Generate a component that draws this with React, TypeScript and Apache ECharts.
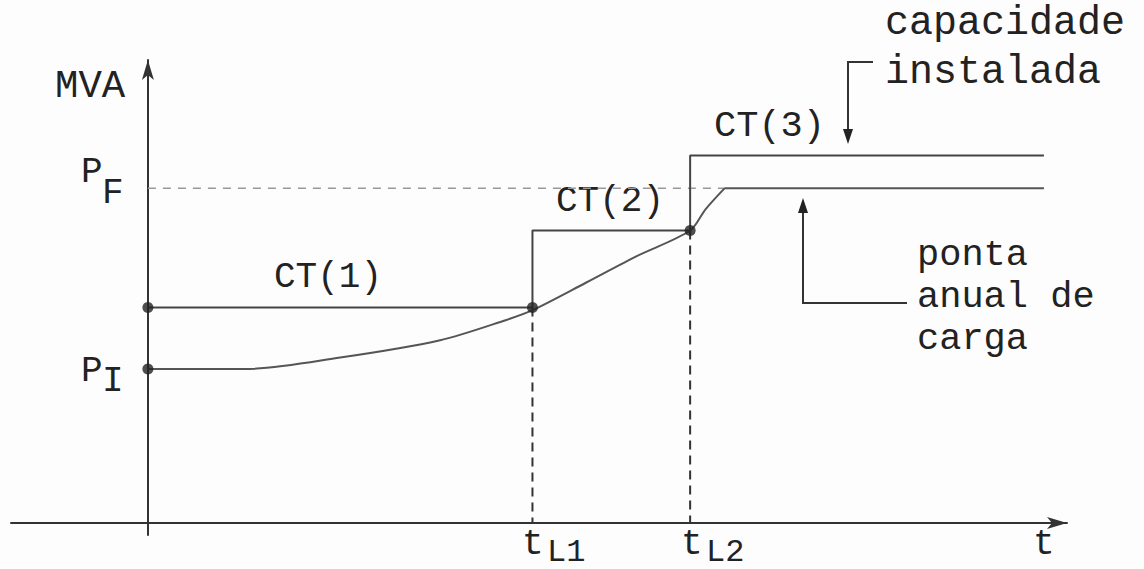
import React, { useEffect, useRef } from "react";
import * as echarts from "echarts";

// ---- data (t in arbitrary time units, MVA in arbitrary units) ----
const capacityT = [0, 10, 10, 14.1, 14.1, 23.3];
const capacityMVA = [56, 56, 76, 76, 95.5, 95.5];
const loadT = [0, 2.5, 5, 7.6, 9.3, 10, 11.4, 12.7, 14.1, 14.5, 15];
const loadMVA = [40, 40, 43, 47.5, 52.7, 55.3, 62.5, 69.3, 76, 81.5, 87];
const peakT = [15, 23.3];
const PI = 40;
const PF = 87;
const CT1 = 56;
const CT2 = 76;
const tL = [10, 14.1];
const axisT = [-3.56, 23.9];
const axisMVA = [-3.1, 120.3];

const FONT = '"Liberation Mono", "DejaVu Sans Mono", monospace';

function txt(text: string, x: number, y: number, size: number, lineHeight?: number) {
  return {
    type: "text",
    x,
    y,
    style: {
      text,
      font: `${size}px ${FONT}`,
      fill: "#222",
      align: "left",
      verticalAlign: "middle",
      lineHeight: lineHeight ?? size,
    },
  };
}

export default function App() {
  const ref = useRef<HTMLDivElement>(null);
  useEffect(() => {
    document.body.style.margin = "0";
    const chart = echarts.init(ref.current!, null, { renderer: "svg" });
    const zip = (a: number[], b: number[]) => a.map((v, i) => [v, b[i]]);
    chart.setOption({
      animation: false,
      backgroundColor: "#fdfdfd",
      grid: { left: 11, top: 60, width: 1056, height: 475 },
      xAxis: {
        type: "value",
        min: axisT[0],
        max: axisT[1],
        axisLine: {
          onZero: true,
          symbol: ["none", "arrow"],
          symbolSize: [9, 20],
          lineStyle: { color: "#333", width: 2 },
        },
        axisTick: { show: false },
        axisLabel: { show: false },
        splitLine: { show: false },
      },
      yAxis: {
        type: "value",
        min: axisMVA[0],
        max: axisMVA[1],
        axisLine: {
          onZero: true,
          symbol: ["none", "arrow"],
          symbolSize: [9, 20],
          lineStyle: { color: "#333", width: 2 },
        },
        axisTick: { show: false },
        axisLabel: { show: false },
        splitLine: { show: false },
      },
      series: [
        {
          type: "line",
          data: [[0, PF], [peakT[0], PF]],
          symbol: "none",
          lineStyle: { color: "#999", width: 1.5, type: [8, 7] },
          z: 1,
        },
        {
          type: "line",
          data: [[tL[0], CT1], [tL[0], 0]],
          symbol: "none",
          lineStyle: { color: "#333", width: 2, type: [9, 6] },
          z: 1,
        },
        {
          type: "line",
          data: [[tL[1], CT2], [tL[1], 0]],
          symbol: "none",
          lineStyle: { color: "#333", width: 2, type: [9, 6] },
          z: 1,
        },
        {
          type: "line",
          data: zip(capacityT, capacityMVA),
          symbol: "none",
          lineStyle: { color: "#444", width: 2 },
          z: 2,
        },
        {
          type: "line",
          data: zip(loadT, loadMVA),
          symbol: "none",
          smooth: 0.3,
          lineStyle: { color: "#555", width: 2 },
          z: 2,
        },
        {
          type: "line",
          data: [[peakT[0], PF], [peakT[1], PF]],
          symbol: "none",
          lineStyle: { color: "#555", width: 2 },
          z: 2,
        },
        {
          type: "scatter",
          data: [[0, CT1], [0, PI], [tL[0], CT1], [tL[1], CT2]],
          symbolSize: 11,
          itemStyle: { color: "#222" },
          z: 3,
        },
      ],
      graphic: [
        txt("MVA", 55, 87, 39),
        txt("P", 81, 172, 36),
        txt("F", 102, 193, 36),
        txt("P", 81, 371, 36),
        txt("I", 102, 381, 36),
        txt("CT(1)", 274, 277, 36),
        txt("CT(2)", 556, 201, 36),
        txt("CT(3)", 714, 126, 37),
        txt("capacidade\ninstalada", 885, 48, 40, 49),
        txt("ponta", 917, 255, 37),
        txt("anual de", 917, 297, 37),
        txt("carga", 917, 339, 37),
        txt("t", 1033, 544, 36),
        txt("t", 522, 544, 36),
        txt("L1", 547, 552, 32),
        txt("t", 681, 544, 36),
        txt("L2", 706, 552, 32),
        {
          type: "polyline",
          shape: { points: [[873, 62], [848, 62], [848, 132]] },
          style: { stroke: "#333", lineWidth: 2, fill: null },
        },
        {
          type: "polygon",
          shape: { points: [[843, 129], [853, 129], [848, 144]] },
          style: { fill: "#222" },
        },
        {
          type: "polyline",
          shape: { points: [[907, 303], [803, 303], [803, 210]] },
          style: { stroke: "#333", lineWidth: 2, fill: null },
        },
        {
          type: "polygon",
          shape: { points: [[798, 213], [808, 213], [803, 198]] },
          style: { fill: "#222" },
        },
      ],
    });
    return () => chart.dispose();
  }, []);
  return <div ref={ref} style={{ width: 1144, height: 569 }} />;
}
